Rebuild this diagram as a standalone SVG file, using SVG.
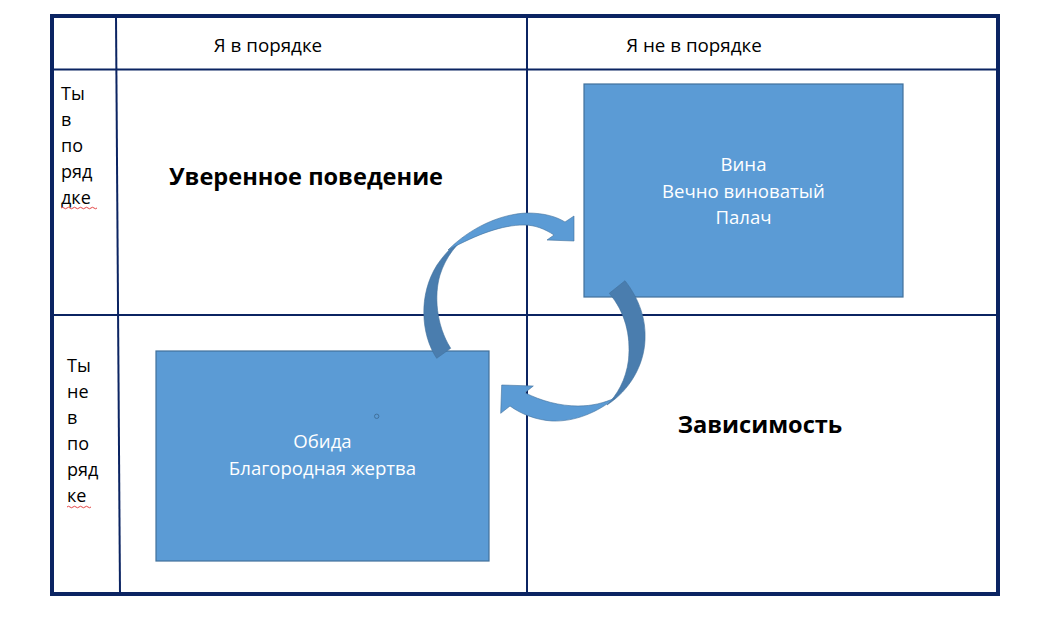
<svg xmlns="http://www.w3.org/2000/svg" width="1053" height="630" viewBox="0 0 1053 630">
<style>
  .grid { stroke: #0B2462; stroke-width: 2; fill: none; }
  .frame { stroke: #0B2462; stroke-width: 4; fill: none; }
  .t { font-family: "Open Sans", "Noto Sans", "Liberation Sans", sans-serif; font-size: 18.8px; fill: #000; }
  .l { font-family: "Open Sans", "Noto Sans", "Liberation Sans", sans-serif; font-size: 18px; fill: #000; }
  .b { font-family: "Open Sans", "Noto Sans", "Liberation Sans", sans-serif; font-size: 23.6px; font-weight: bold; fill: #000; }
  .w { font-family: "Open Sans", "Noto Sans", "Liberation Sans", sans-serif; font-size: 18.6px; fill: #fff; text-anchor: middle; }
  .box { fill: #5B9BD5; stroke: #41719C; stroke-width: 1.2; }
  .light { fill: #5B9BD5; stroke: #41719C; stroke-width: 0.6; }
  .dark { fill: #4A7DAE; stroke: #41719C; stroke-width: 0.6; }
  .squig { fill: none; stroke: #E03030; stroke-width: 0.9; }
</style>
<rect width="1053" height="630" fill="#fff"/>
<g id="grid">
  <line class="grid" x1="116" y1="16" x2="120" y2="594"/>
  <line class="grid" x1="527" y1="16" x2="527" y2="594"/>
  <line class="grid" x1="52" y1="69.5" x2="998" y2="69.5"/>
  <line class="grid" x1="52" y1="315" x2="998" y2="315"/>
  <rect class="frame" x="52" y="16" width="946" height="578"/>
</g>
<g id="headers">
  <text class="t" x="268" y="52" text-anchor="middle">Я в порядке</text>
  <text class="t" x="694" y="52" text-anchor="middle">Я не в порядке</text>
</g>
<g id="row1-label">
  <text class="l" x="61" y="100">Ты</text>
  <text class="l" x="61" y="126">в</text>
  <text class="l" x="61" y="152">по</text>
  <text class="l" x="61" y="178">ряд</text>
  <text class="l" x="61" y="204">дке</text>
  <path class="squig" d="M61,208 q1.5,-1.5 3,0 t3,0 t3,0 t3,0 t3,0 t3,0 t3,0 t3,0 t3,0 t3,0 t3,0 t3,0"/>
</g>
<g id="row2-label">
  <text class="l" x="67" y="372">Ты</text>
  <text class="l" x="67" y="398">не</text>
  <text class="l" x="67" y="424">в</text>
  <text class="l" x="67" y="450">по</text>
  <text class="l" x="67" y="476">ряд</text>
  <text class="l" x="67" y="502">ке</text>
  <path class="squig" d="M67,507 q1.5,-1.5 3,0 t3,0 t3,0 t3,0 t3,0 t3,0 t3,0 t3,0"/>
</g>
<g id="confident">
  <text class="b" x="306" y="185" text-anchor="middle">Уверенное поведение</text>
</g>
<g id="dependence">
  <text class="b" x="760" y="433" text-anchor="middle">Зависимость</text>
</g>
<g id="guilt">
  <rect class="box" x="584" y="84" width="319" height="213"/>
  <text class="w" x="743.5" y="171">Вина</text>
  <text class="w" x="743.5" y="198">Вечно виноватый</text>
  <text class="w" x="743.5" y="224">Палач</text>
</g>
<g id="resentment">
  <rect class="box" x="156" y="351" width="333" height="210"/>
  <circle cx="376.7" cy="416.3" r="2.2" fill="none" stroke="#41719C" stroke-width="1"/>
  <text class="w" x="322.5" y="448">Обида</text>
  <text class="w" x="322.5" y="475">Благородная жертва</text>
</g>
<g id="connectors">
  <path class="dark" d="M436.7,358.3 C421,335 418,295 437,265 C446,252 455,243 466,237 C457,244 446,256 440,275 C434,295 436,325 450.7,348.3 Z"/>
  <path class="light" d="M448,250 C470,228 500,214 527,213 C545,213 557,217 565,222 L574,216 L574,241 L547,240 L554,235 C545,229 535,225 524,225 C502,225 478,234 448,250 Z"/>
  <path class="dark" d="M609.3,293.3 L625,280.7 C640,300 646,320 645,340 C644,365 630,390 607,405 C617,395 626,380 628.5,360 C631,335 625,312 609.3,293.3 Z"/>
  <path class="light" d="M615,398 C598,412 575,422 552,421 C536,420 521,414 510,406 L500.7,413.3 L501.7,385 L533.3,386 L525,392.7 C541,401 560,406 578,406 C592,406 604,403 615,398 Z"/>
</g>
</svg>
